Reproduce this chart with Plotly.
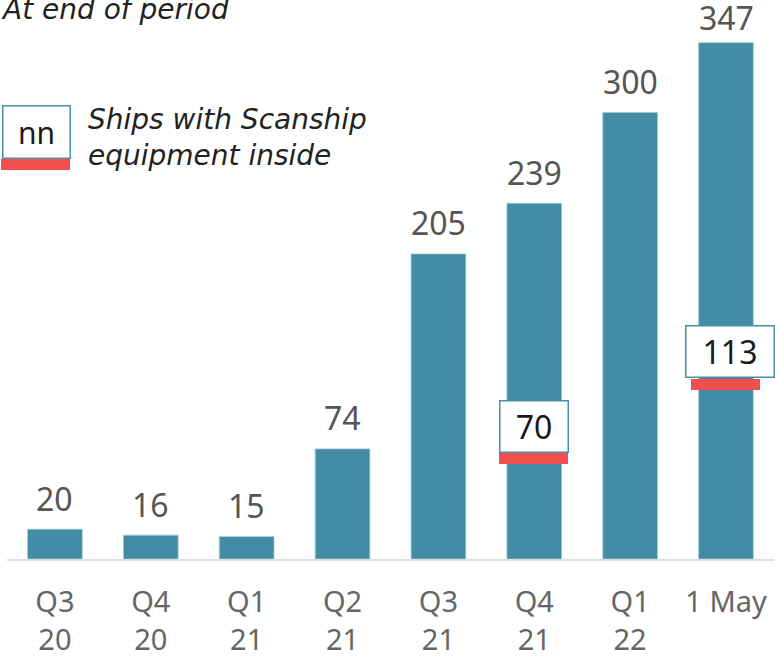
import plotly.graph_objects as go

categories = ["Q3<br>20", "Q4<br>20", "Q1<br>21", "Q2<br>21", "Q3<br>21", "Q4<br>21", "Q1<br>22", "1 May"]
ships = [20, 16, 15, 74, 205, 239, 300, 347]
label_yshift = [31, 31, 31, 31, 31, 31, 31, 25]
scanship_inside = [None, None, None, None, None, 70, None, 113]
box_yshift = [0, 0, 0, 0, 0, 28, 0, 39]
bar_yshift = [0, 0, 0, 0, 0, -4, 0, 6]
box_xshift = [0, 0, 0, 0, 0, 0, 0, 4]
box_width = [0, 0, 0, 0, 0, 66, 0, 86]

TEAL = "#438CA5"
RED = "#F24E4E"
FONT = "Noto Sans"
IFONT = "DejaVu Sans"

fig = go.Figure()
fig.add_trace(go.Bar(
    x=categories, y=ships, width=0.57,
    marker=dict(color=TEAL, line=dict(color="#9cc5d3", width=0.8)),
    hoverinfo="skip",
))

annotations = []
for i, v in enumerate(ships):
    annotations.append(dict(
        x=categories[i], y=v, xref="x", yref="y", text=str(v), showarrow=False,
        font=dict(family=FONT, size=32, color="#555555"),
        yanchor="middle", xanchor="center", yshift=label_yshift[i]))

for i, v in enumerate(scanship_inside):
    if v is None:
        continue
    annotations.append(dict(
        x=categories[i], y=v, xref="x", yref="y", text=str(v), showarrow=False,
        font=dict(family=FONT, size=32, color="#1a1a1a"),
        bgcolor="white", bordercolor="#4A8FA8", borderwidth=1.5, borderpad=0.5,
        width=box_width[i], height=49, yshift=box_yshift[i], xshift=box_xshift[i],
        yanchor="middle", xanchor="center", valign="middle"))
    annotations.append(dict(
        x=categories[i], y=v, xref="x", yref="y", text=" ", showarrow=False,
        font=dict(size=6), bgcolor=RED, borderwidth=0, borderpad=0,
        width=69, height=11, yshift=bar_yshift[i], xshift=-1,
        yanchor="middle", xanchor="center"))

# title
annotations.append(dict(
    xref="paper", yref="paper", x=0, y=1, xshift=-8, yshift=-1,
    text="<i>At end of period</i>", showarrow=False, xanchor="left", yanchor="middle",
    font=dict(family=IFONT, size=28, color="#222222")))
# legend box
annotations.append(dict(
    xref="paper", yref="paper", x=(36 - 7) / 768, y=(565 - 133.5) / 557,
    text="nn", showarrow=False, xanchor="center", yanchor="middle",
    font=dict(family=FONT, size=30, color="#1a1a1a"),
    bgcolor="white", bordercolor="#4A8FA8", borderwidth=1.5, borderpad=0.5,
    width=65, height=50))
annotations.append(dict(
    xref="paper", yref="paper", x=(35.5 - 7) / 768, y=(565 - 166) / 557,
    text=" ", showarrow=False, xanchor="center", yanchor="middle",
    font=dict(size=6), bgcolor=RED, borderwidth=0, borderpad=0, width=69, height=11))
annotations.append(dict(
    xref="paper", yref="paper", x=(86 - 7) / 768, y=(565 - 138.5) / 557,
    text="<i>Ships with Scanship<br>equipment inside</i>", showarrow=False,
    xanchor="left", yanchor="middle", align="left",
    font=dict(family=IFONT, size=28, color="#222222")))

fig.update_layout(
    width=775, height=658,
    margin=dict(l=7, r=0, t=8, b=93),
    paper_bgcolor="white", plot_bgcolor="white",
    showlegend=False,
    annotations=annotations,
    xaxis=dict(showline=True, linecolor="#dddddd", linewidth=2, showgrid=False,
               ticks="", tickfont=dict(family=FONT, size=29, color="#666666"),
               ticklabelstandoff=16, fixedrange=True),
    yaxis=dict(visible=False, range=[0, 370.3], showgrid=False, zeroline=False,
               fixedrange=True),
    bargap=0.43,
)
fig.write_html("out.html", config={"displayModeBar": False, "staticPlot": True},
               post_script="document.body.style.margin='0';")
